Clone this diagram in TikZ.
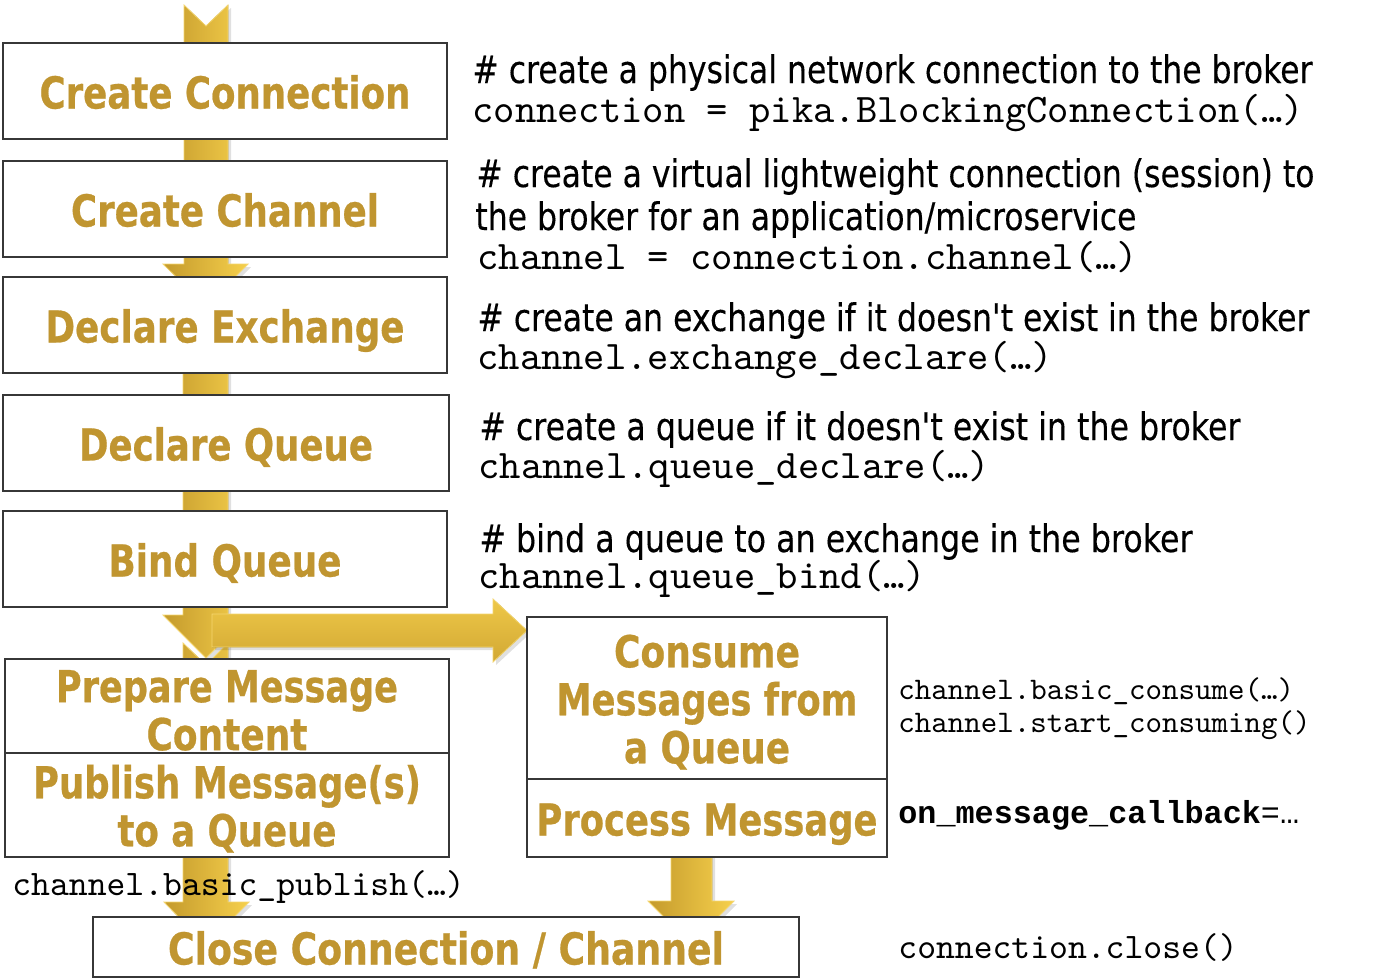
\documentclass[tikz,border=0pt]{standalone}
\usepackage{fontspec}
\usepackage{graphicx}
\setmainfont{DejaVu Sans}
\newfontfamily\cmtfont{DejaVu Sans}[FakeBold=0.3]
\newfontfamily\boxfont{DejaVu Sans}[BoldFeatures={FakeBold=0.6}]
\newfontfamily\codefont{lmmono10-regular.otf}
\newfontfamily\codeboldfont{Liberation Mono}
\definecolor{goldtxt}{RGB}{192,149,48}
\definecolor{boxline}{RGB}{55,55,55}
\definecolor{arrdark}{RGB}{196,154,44}
\definecolor{arrlight}{RGB}{246,208,76}
\definecolor{arrtop}{RGB}{238,200,72}
\definecolor{arrbot}{RGB}{210,168,52}
\definecolor{arredge}{RGB}{245,214,110}
\newcommand\fw[2]{\resizebox{#1pt}{\height}{#2}}
\newcommand\topstrut{\rule{0pt}{20.5pt}}
\newcommand\blockarrow[2]{\fill[black,opacity=0.12,shift={(3,3)}] #2; \filldraw[#1] #2;}
\begin{document}
\begin{tikzpicture}[x=0.5pt,y=-0.5pt,
  box/.style={draw=boxline, line width=1.3pt, fill=white, inner sep=0pt, text=goldtxt,
              font=\boxfont\fontsize{22}{24}\selectfont\bfseries, align=center},
  boxone/.style={box, text height=17.5pt, text depth=0pt},
  cmt/.style={anchor=base west, inner sep=0pt, font=\cmtfont\fontsize{19}{22}\selectfont},
  code/.style={anchor=base west, inner sep=0pt, font=\codefont\fontsize{20.3}{22}\selectfont},
  codes/.style={anchor=base west, inner sep=0pt, font=\codefont\fontsize{15.7}{18}\selectfont},
  codem/.style={anchor=base west, inner sep=0pt, font=\codefont\fontsize{17.95}{20}\selectfont},
  codeb/.style={anchor=base west, inner sep=0pt, font=\codeboldfont\fontsize{15.9}{18}\selectfont},
  varrow/.style={left color=arrdark, right color=arrlight, draw=arredge, line width=0.4pt},
  harrow/.style={top color=arrtop, bottom color=arrbot, draw=arredge, line width=0.4pt}]
\useasboundingbox (0,0) rectangle (1394,980);
\fill[white] (0,0) rectangle (1394,980);

% block arrows (behind boxes)
\blockarrow{varrow}{(184,5) -- (206,26) -- (228,5) -- (228,264) -- (248,264) -- (206,306) -- (163,264) -- (184,264) -- cycle}
\blockarrow{varrow}{(183,643) -- (206,665) -- (228,643) -- (228,902) -- (249,902) -- (206,945) -- (164,902) -- (183,902) -- cycle}
\blockarrow{varrow}{(183,300) -- (228,300) -- (228,615) -- (249,615) -- (206,658) -- (163,615) -- (183,615) -- cycle}
\blockarrow{harrow}{(212,614) -- (493,614) -- (493,599) -- (527,630.5) -- (493,662) -- (493,647) -- (212,647) -- cycle}
\blockarrow{varrow}{(671,840) -- (712,840) -- (712,901) -- (734,901) -- (691,944) -- (648,901) -- (671,901) -- cycle}

% boxes
\node[boxone, minimum width=222pt, minimum height=48pt] (cconn) at (225,91) {\fw{185.5}{Create Connection}};
\node[boxone, minimum width=222pt, minimum height=48pt] (cchan) at (225,209) {\fw{154}{Create Channel}};
\node[boxone, minimum width=222pt, minimum height=48pt] (dexch) at (225,325) {\fw{179.5}{Declare Exchange}};
\node[boxone, minimum width=223pt, minimum height=48pt] (dqueue) at (226,443) {\fw{147}{Declare Queue}};
\node[boxone, minimum width=222pt, minimum height=48pt] (bqueue) at (225,559) {\fw{116.5}{Bind Queue}};
\node[box, minimum width=222pt, minimum height=47pt] (prep) at (227,706) {\topstrut\fw{171}{Prepare Message}\\\fw{80.5}{Content}};
\node[box, minimum width=222pt, minimum height=52pt] (pub) at (227,805) {\topstrut\fw{194}{Publish Message(s)}\\\fw{109.5}{to a Queue}};
\node[box, minimum width=180pt, minimum height=81pt] (cons) at (707,698) {\topstrut\fw{93}{Consume}\\\fw{150.5}{Messages from}\\\fw{83}{a Queue}};
\node[boxone, minimum width=180pt, minimum height=39pt] (proc) at (707,818) {\fw{170.5}{Process Message}};
\node[boxone, minimum width=353pt, minimum height=30pt] (close) at (446,947) {\fw{278}{Close Connection / Channel}};

% comments and code
\node[cmt] (c1) at (472,83) {\fw{420}{\# create a physical network connection to the broker}};
\node[code] (k1) at (472,122) {connection = pika.BlockingConnection(…)};
\node[cmt] (c2a) at (476,187) {\fw{419}{\# create a virtual lightweight connection (session) to}};
\node[cmt] (c2b) at (475,230) {\fw{330.5}{the broker for an application/microservice}};
\node[code] (k2) at (477,269) {channel = connection.channel(…)};
\node[cmt] (c3) at (477,331) {\fw{416}{\# create an exchange if it doesn't exist in the broker}};
\node[code] (k3) at (477,369) {channel.exchange\_declare(…)};
\node[cmt] (c4) at (479,440) {\fw{380.5}{\# create a queue if it doesn't exist in the broker}};
\node[code] (k4) at (478,478) {channel.queue\_declare(…)};
\node[cmt] (c5) at (479,552) {\fw{356.5}{\# bind a queue to an exchange in the broker}};
\node[code] (k5) at (478,588) {channel.queue\_bind(…)};
\node[codes] (k6) at (898,699) {channel.basic\_consume(…)};
\node[codes] (k7) at (898,732) {channel.start\_consuming()};
\node[codeb] (k8) at (898,823) {\textbf{on\_message\_callback}=…};
\node[codem] (k9) at (898,958) {connection.close()};
\node[codem] (k10) at (12,895) {channel.basic\_publish(…)};
\end{tikzpicture}
\end{document}
